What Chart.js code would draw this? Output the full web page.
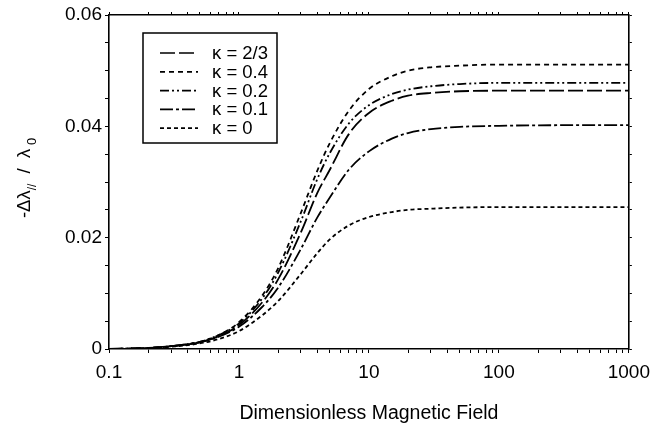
<!DOCTYPE html>
<html>
<head>
<meta charset="utf-8">
<title>Dimensionless Magnetic Field</title>
<script src="https://cdn.jsdelivr.net/npm/chart.js@4.4.1/dist/chart.umd.min.js"></script>
<style>
    html, body { margin: 0; padding: 0; background: #fff; }
    #wrap { width: 658px; height: 437px; }
</style>
</head>
<body>
<div id="wrap"><canvas id="magChart" width="658" height="437"></canvas></div>
<script>
// ---- data ----
const field = [0.1, 0.2, 0.3, 0.5, 0.7, 1, 1.5, 2, 3, 4, 5, 7, 10, 15, 20, 30, 50, 100, 300, 1000];

const kappa23 = [0, 0.0002, 0.0005, 0.0012, 0.0023, 0.0043, 0.0083, 0.0125, 0.0210, 0.0280, 0.0322, 0.0386, 0.0424, 0.0446, 0.0455, 0.0460, 0.0463, 0.0464, 0.0464, 0.0464];
const kappa04 = [0, 0.0002, 0.0005, 0.0013, 0.0025, 0.0048, 0.0095, 0.0145, 0.0245, 0.0320, 0.0370, 0.0428, 0.0467, 0.0490, 0.0500, 0.0506, 0.0509, 0.0511, 0.0511, 0.0511];
const kappa02 = [0, 0.0002, 0.0005, 0.0013, 0.0025, 0.0046, 0.0090, 0.0137, 0.0230, 0.0305, 0.0352, 0.0405, 0.0438, 0.0458, 0.0466, 0.0472, 0.0476, 0.0478, 0.0478, 0.0478];
const kappa01 = [0, 0.0002, 0.0005, 0.0012, 0.0022, 0.0040, 0.0075, 0.0110, 0.0180, 0.0236, 0.0272, 0.0322, 0.0355, 0.0378, 0.0388, 0.0395, 0.0399, 0.0401, 0.0402, 0.0402];
const kappa00 = [0, 0.0001, 0.0004, 0.0010, 0.0018, 0.0032, 0.0060, 0.0086, 0.0135, 0.0172, 0.0197, 0.0222, 0.0237, 0.0246, 0.0250, 0.0252, 0.0254, 0.0255, 0.0255, 0.0255];

const seriesLabels = ['κ = 2/3', 'κ = 0.4', 'κ = 0.2', 'κ = 0.1', 'κ = 0'];
const xTickLabels = [0.1, 1, 10, 100, 1000];
const yTickLabels = [0, 0.02, 0.04, 0.06];

// ---- styles ----
const FONT = "'Liberation Sans', Arial, Helvetica, sans-serif";
const dashes = [
    [15, 4],            // long dash
    [5, 4],             // short dash
    [9, 3, 2, 3, 2, 3], // dash dot dot
    [13, 3, 3, 3],      // dash dot
    [4, 3],             // dotted
];

const toPoints = (ys) => ys.map((y, i) => ({ x: field[i], y: y }));

// all 1..9 multiples per decade for log ticks
function logTicks(scale) {
    const ticks = [];
    for (let d = -1; d < 3; d++) {
        for (let m = 1; m < 10; m++) {
            ticks.push({ value: m * Math.pow(10, d) });
        }
    }
    ticks.push({ value: 1000 });
    scale.ticks = ticks;
}

// boxed legend drawn inside the plot, top left
const boxLegend = {
    id: 'boxLegend',
    afterDatasetsDraw(chart) {
        const ctx = chart.ctx;
        const a = chart.chartArea;
        const x0 = a.left + 34;
        const y0 = a.top + 18;
        ctx.save();
        ctx.fillStyle = '#fff';
        ctx.fillRect(x0, y0, 134, 110);
        ctx.lineWidth = 1.5;
        ctx.strokeStyle = '#000';
        ctx.strokeRect(x0, y0, 134, 110);
        ctx.font = '18.5px ' + FONT;
        ctx.fillStyle = '#000';
        ctx.textBaseline = 'middle';
        ctx.lineWidth = 1.7;
        chart.data.datasets.forEach((ds, i) => {
            const y = y0 + 20 + i * 18.8;
            ctx.setLineDash(ds.borderDash);
            ctx.beginPath();
            ctx.moveTo(x0 + 17, y);
            ctx.lineTo(x0 + 55, y);
            ctx.stroke();
            ctx.setLineDash([]);
            ctx.fillText(ds.label, x0 + 69, y + 1);
        });
        ctx.restore();
    }
};

// rotated y title with subscripts: -Δλ// / λ0
const yTitle = {
    id: 'yTitle',
    afterDraw(chart) {
        const ctx = chart.ctx;
        const a = chart.chartArea;
        const parts = [
            { t: '-Δλ', size: 18.5, dy: 0 },
            { t: '//', size: 12, dy: 6 },
            { t: '  /  λ', size: 18.5, dy: 0 },
            { t: ' 0', size: 13, dy: 6 },
        ];
        ctx.save();
        ctx.fillStyle = '#000';
        ctx.textBaseline = 'alphabetic';
        let total = 0;
        parts.forEach(p => { ctx.font = p.size + 'px ' + FONT; p.w = ctx.measureText(p.t).width; total += p.w; });
        ctx.translate(30, (a.top + a.bottom) / 2 - 4);
        ctx.rotate(-Math.PI / 2);
        let x = -total / 2;
        parts.forEach(p => {
            ctx.font = p.size + 'px ' + FONT;
            ctx.fillText(p.t, x, p.dy);
            x += p.w;
        });
        ctx.restore();
    }
};

const datasets = [kappa23, kappa04, kappa02, kappa01, kappa00].map((ys, i) => ({
    label: seriesLabels[i],
    data: toPoints(ys),
    borderColor: '#000',
    borderWidth: 1.8,
    borderDash: dashes[i],
    pointRadius: 0,
    fill: false,
    cubicInterpolationMode: 'monotone',
}));

const axisBorder = { display: true, color: '#000', width: 1.6 };
const tickFont = { family: FONT, size: 19 };

new Chart(document.getElementById('magChart').getContext('2d'), {
    type: 'line',
    data: { datasets: datasets },
    options: {
        responsive: false,
        devicePixelRatio: 1,
        animation: false,
        layout: { padding: 0 },
        plugins: {
            legend: { display: false },
            tooltip: { enabled: false },
        },
        scales: {
            x: {
                type: 'logarithmic',
                position: 'bottom',
                min: 0.1,
                max: 1000,
                afterBuildTicks: logTicks,
                afterFit: (s) => { s.height = 88; },
                border: axisBorder,
                grid: { drawOnChartArea: false, tickLength: 4, color: '#000', lineWidth: 1 },
                ticks: {
                    autoSkip: false,
                    maxRotation: 0,
                    padding: 8,
                    color: '#000',
                    font: tickFont,
                    callback: (v) => (xTickLabels.includes(v) ? String(v) : ''),
                },
                title: {
                    display: true,
                    text: 'Dimensionless Magnetic Field',
                    color: '#000',
                    font: { family: FONT, size: 19.5 },
                    padding: { top: 0, bottom: 12 },
                },
            },
            x2: {
                type: 'logarithmic',
                position: 'top',
                min: 0.1,
                max: 1000,
                afterBuildTicks: logTicks,
                afterFit: (s) => { s.height = 15; },
                border: axisBorder,
                grid: { drawOnChartArea: false, tickLength: 3, color: '#000', lineWidth: 1 },
                ticks: { display: false },
            },
            y: {
                position: 'left',
                min: 0,
                max: 0.06,
                afterFit: (s) => { s.width = 109; },
                border: axisBorder,
                grid: { drawOnChartArea: false, tickLength: 4, color: '#000', lineWidth: 1 },
                ticks: {
                    stepSize: 0.005,
                    autoSkip: false,
                    padding: 3,
                    color: '#000',
                    font: tickFont,
                    callback: (v) => {
                        const hit = yTickLabels.find(t => Math.abs(t - v) < 1e-9);
                        return hit === undefined ? '' : String(hit);
                    },
                },
            },
            y2: {
                position: 'right',
                min: 0,
                max: 0.06,
                afterFit: (s) => { s.width = 20; },
                border: axisBorder,
                grid: { drawOnChartArea: false, tickLength: 3, color: '#000', lineWidth: 1 },
                ticks: { display: false, stepSize: 0.005 },
            },
        },
    },
    plugins: [boxLegend, yTitle],
});
</script>
</body>
</html>
